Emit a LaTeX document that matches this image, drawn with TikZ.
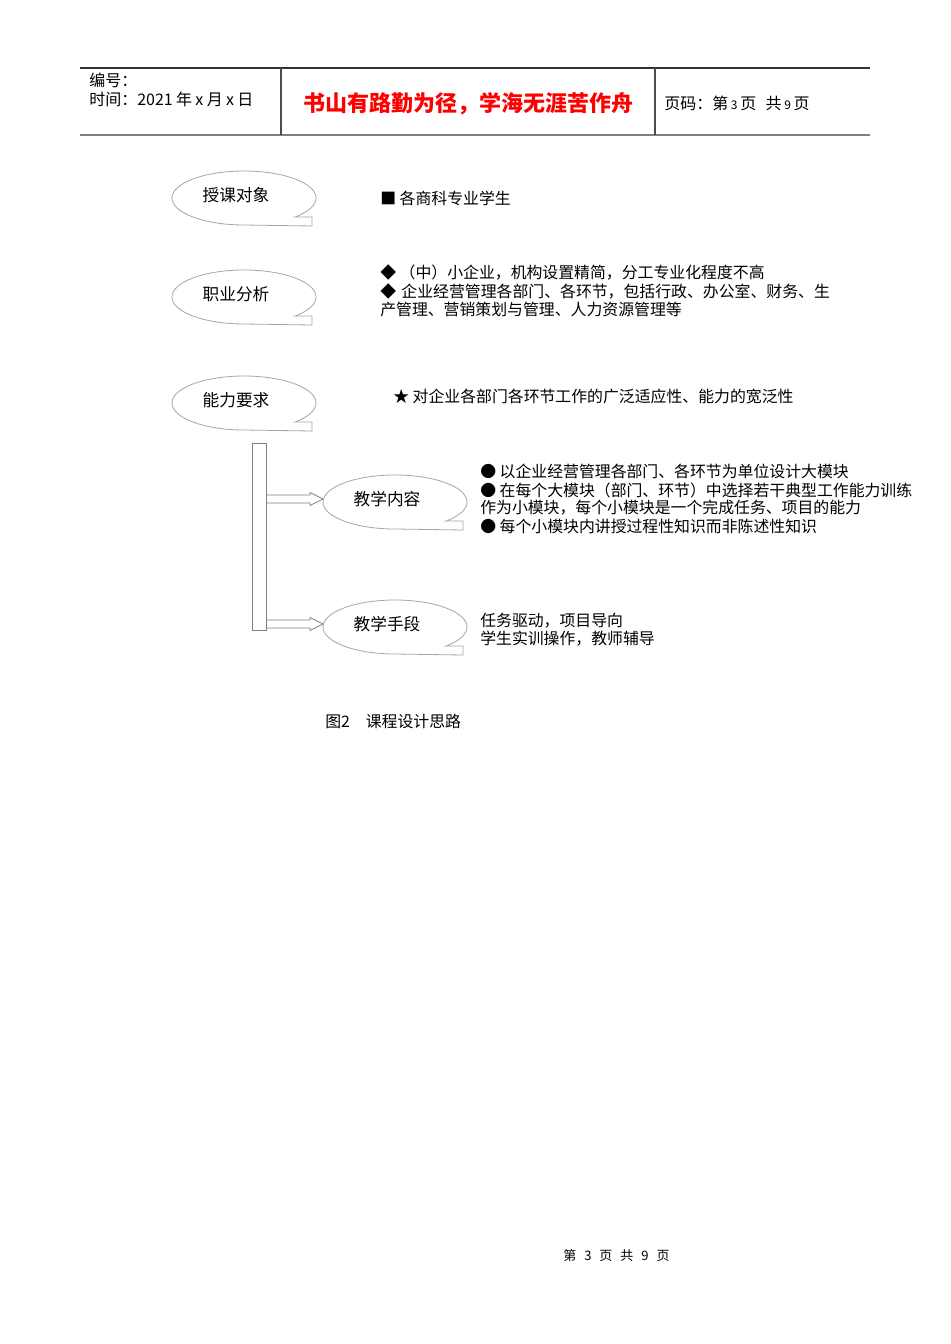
\documentclass[tikz,border=0pt]{standalone}
\usepackage{fontspec}
\setmainfont{Noto Sans CJK SC}
\usetikzlibrary{calc,shapes.geometric}
\newcommand\calloutline[1]{%
  \draw[cline] ($(#1)+(8,3)+(45:72 and 27)$) arc[start angle=45,end angle=-270,x radius=72,y radius=27]
    -- ($(#1)+(8+68,3+28)$) -- ($(#1)+(8+68,3+19)$) -- cycle;}
\newcommand\blockarr[1]{%
  \draw[blockarrow] ($(bar.east |- #1)+(0,-4)$) -- ($(#1)+(-77,-4)$) -- ($(#1)+(-77,-6.5)$)
    -- ($(#1)+(-64,0)$) -- ($(#1)+(-77,6.5)$) -- ($(#1)+(-77,4)$) -- ($(bar.east |- #1)+(0,4)$);}
\begin{document}
\begin{tikzpicture}[x=0.75pt,y=-0.75pt,
  txt/.style={anchor=west,inner sep=0pt,font=\fontsize{11.9pt}{14pt}\selectfont},
  etxt/.style={inner sep=0pt,font=\fontsize{12.5pt}{15pt}\selectfont},
  hdr/.style={anchor=west,inner sep=0pt,font=\fontsize{12pt}{14pt}\selectfont},
  cline/.style={draw=black!35,line width=0.6pt},
  barbox/.style={draw=black!50,line width=0.6pt,minimum width=10.5pt,minimum height=140.25pt,inner sep=0pt},
  blockarrow/.style={draw=black!50,line width=0.6pt}]
\useasboundingbox[fill=white] (0,0) rectangle (950,1344);

% header
\draw[black!80,line width=0.8pt] (80,68) -- (870,68);
\draw[black!50,line width=1.6pt] (80,135) -- (870,135);
\draw[black!70,line width=0.8pt] (281,68) -- (281,135) (655,68) -- (655,135);
\node[hdr] (h1) at (89,80) {编号：};
\node[hdr] (h2) at (89,99) {时间：2021\hspace{2.5pt}年\hspace{2.5pt}x\hspace{2.5pt}月\hspace{2.5pt}x\hspace{2.5pt}日};
\node[inner sep=0pt,font=\fontsize{16.5pt}{18pt}\selectfont\bfseries,text=red] (h3) at (468,104) {书山有路勤为径，学海无涯苦作舟};
\node[hdr] (h4) at (664,103) {页码：第\hspace{2pt}{\fontsize{9pt}{10pt}\selectfont 3}\hspace{2pt}页\hspace{7pt}共\hspace{2pt}{\fontsize{9pt}{10pt}\selectfont 9}\hspace{2pt}页};

% callouts
\node[etxt] (e1) at (236,195) {授课对象};
\node[etxt] (e2) at (236,294) {职业分析};
\node[etxt] (e3) at (236,400) {能力要求};
\node[etxt] (e4) at (387,499) {教学内容};
\node[etxt] (e5) at (387,624) {教学手段};
\calloutline{e1}
\calloutline{e2}
\calloutline{e3}
\calloutline{e4}
\calloutline{e5}

% bar and arrows
\node[barbox] (bar) at (259,536.5) {};
\blockarr{e4}
\blockarr{e5}

% texts
\node[txt] (t1) at (380,198) {■ 各商科专业学生};
\node[txt] (t2) at (380,272) {◆ （中）小企业，机构设置精简，分工专业化程度不高};
\node[txt] (t3) at (380,291) {◆\hspace{4pt}企业经营管理各部门、各环节，包括行政、办公室、财务、生};
\node[txt] (t4) at (380,309) {产管理、营销策划与管理、人力资源管理等};
\node[txt] (t5) at (393,397) {★ 对企业各部门各环节工作的广泛适应性、能力的宽泛性};
\node[txt] (t6) at (480,471) {● 以企业经营管理各部门、各环节为单位设计大模块};
\node[txt] (t7) at (480,490) {● 在每个大模块（部门、环节）中选择若干典型工作能力训练};
\node[txt] (t8) at (480,508) {作为小模块，每个小模块是一个完成任务、项目的能力};
\node[txt] (t9) at (480,526) {● 每个小模块内讲授过程性知识而非陈述性知识};
\node[txt] (t10) at (480,621) {任务驱动，项目导向};
\node[txt] (t11) at (480,639) {学生实训操作，教师辅导};

\node[txt] (cap) at (325,721) {图2\quad 课程设计思路};
\node[anchor=west,inner sep=0pt,font=\fontsize{9.75pt}{11pt}\selectfont] (foot) at (563,1256) {第\hspace{6pt}3\hspace{6pt}页\hspace{6pt}共\hspace{6pt}9\hspace{6pt}页};
\end{tikzpicture}
\end{document}
